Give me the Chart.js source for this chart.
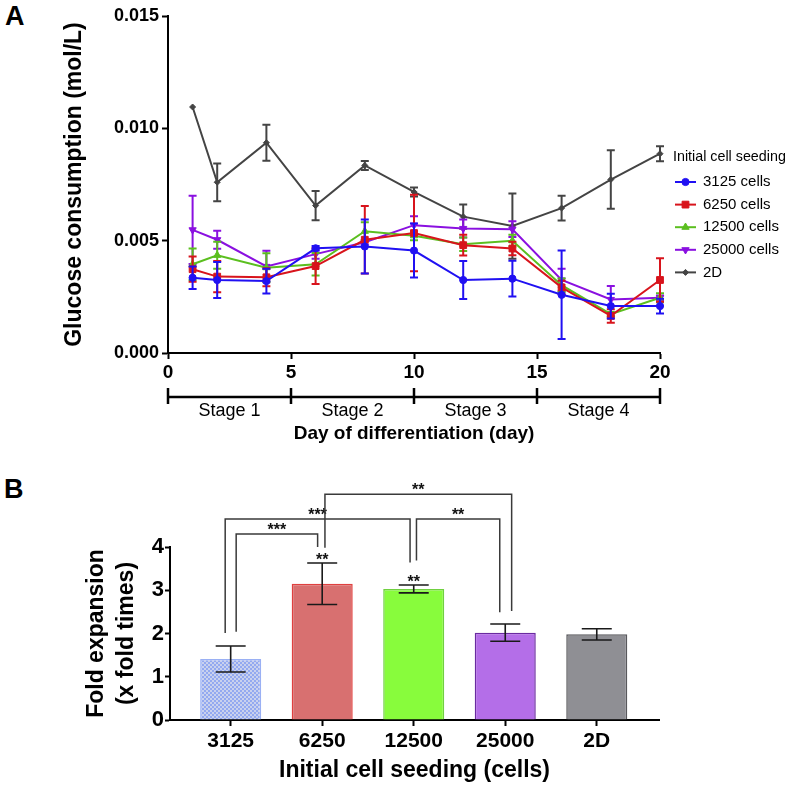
<!DOCTYPE html>
<html><head><meta charset="utf-8">
<script src="https://cdn.jsdelivr.net/npm/chart.js@4/dist/chart.umd.min.js"></script>
<style>
body{margin:0;background:#fff;width:787px;height:785px;position:relative;overflow:hidden;font-family:"Liberation Sans",Arial,sans-serif}
#ca{position:absolute;left:0;top:0}
#cb{position:absolute;left:0;top:450px}
.pl{position:absolute;font-weight:bold;font-size:27px;color:#000}
</style></head><body>
<div class="pl" style="left:5px;top:1px">A</div>
<div class="pl" style="left:4px;top:474px">B</div>
<canvas id="ca" width="787" height="450"></canvas>
<canvas id="cb" width="787" height="335"></canvas>
<script>
// ---------- Panel A data ----------
const days = [1, 2, 4, 6, 8, 10, 12, 14, 16, 18, 20];
const seriesLabels = ['3125 cells', '6250 cells', '12500 cells', '25000 cells', '2D'];
const glc3125  = [0.00335, 0.00325, 0.00320, 0.00466, 0.00474, 0.00456, 0.00325, 0.00331, 0.00259, 0.00209, 0.00209];
const sd3125   = [0.00050, 0.00080, 0.00055, 0.00010, 0.00120, 0.00120, 0.00085, 0.00080, 0.00197, 0.00055, 0.00033];
const glc6250  = [0.00373, 0.00340, 0.00337, 0.00387, 0.00504, 0.00534, 0.00480, 0.00465, 0.00292, 0.00165, 0.00325];
const sd6250   = [0.00056, 0.00070, 0.00040, 0.00080, 0.00150, 0.00170, 0.00046, 0.00030, 0.00030, 0.00030, 0.00097];
const glc12500 = [0.00395, 0.00435, 0.00380, 0.00395, 0.00542, 0.00522, 0.00484, 0.00500, 0.00302, 0.00173, 0.00246];
const sd12500  = [0.00070, 0.00060, 0.00064, 0.00050, 0.00040, 0.00020, 0.00030, 0.00026, 0.00030, 0.00010, 0.00020];
const glc25000 = [0.00548, 0.00504, 0.00385, 0.00440, 0.00493, 0.00569, 0.00554, 0.00551, 0.00325, 0.00238, 0.00246];
const sd25000  = [0.00152, 0.00040, 0.00070, 0.00020, 0.00010, 0.00040, 0.00040, 0.00035, 0.00050, 0.00060, 0.00010];
const glc2D    = [0.01095, 0.00760, 0.00936, 0.00656, 0.00835, 0.00717, 0.00607, 0.00565, 0.00645, 0.00772, 0.00887];
const sd2D     = [0, 0.00084, 0.00080, 0.00065, 0.00020, 0.00020, 0.00054, 0.00145, 0.00055, 0.00130, 0.00033];
const stageLabels = ['Stage 1', 'Stage 2', 'Stage 3', 'Stage 4'];
const stageBounds = [0, 5, 10, 15, 20];

// ---------- Panel B data ----------
const seedCategories = ['3125', '6250', '12500', '25000', '2D'];
const foldMean = [1.41, 3.15, 3.03, 2.02, 1.98];
const foldSD   = [0.30, 0.48, 0.09, 0.20, 0.13];
const comparisons = [[0, 2, '***'], [0, 1, '***'], [1, 3, '**'], [2, 3, '**']];
const vs2D = ['', '**', '**', '', ''];

Chart.defaults.font.family = "'Liberation Sans', Arial, sans-serif";
Chart.defaults.color = '#000';

function marker(ctx, style, x, y, r, color) {
  ctx.save();
  ctx.fillStyle = color; ctx.strokeStyle = color; ctx.lineWidth = 1;
  ctx.beginPath();
  if (style === 'circle') { ctx.arc(x, y, r, 0, Math.PI * 2); }
  else if (style === 'rect') { const s = r * Math.SQRT1_2; ctx.rect(x - s, y - s, 2 * s, 2 * s); }
  else if (style === 'triangle') { ctx.moveTo(x, y - r); ctx.lineTo(x + r * 0.87, y + r * 0.5); ctx.lineTo(x - r * 0.87, y + r * 0.5); ctx.closePath(); }
  else if (style === 'triangleDown') { ctx.moveTo(x, y + r); ctx.lineTo(x + r * 0.87, y - r * 0.5); ctx.lineTo(x - r * 0.87, y - r * 0.5); ctx.closePath(); }
  else if (style === 'rectRot') { ctx.moveTo(x, y - r); ctx.lineTo(x + r, y); ctx.lineTo(x, y + r); ctx.lineTo(x - r, y); ctx.closePath(); }
  ctx.fill(); ctx.stroke();
  ctx.restore();
}

const colorsA = ['#2010f2', '#d8141c', '#5bbf1f', '#8a10e0', '#444444'];
const stylesA = ['circle', 'rect', 'triangle', 'triangleDown', 'rectRot'];
const legendStyles = stylesA;
const seriesVals = [glc3125, glc6250, glc12500, glc25000, glc2D];
const seriesErr = [sd3125, sd6250, sd12500, sd25000, sd2D];
const radii = [3.6, 4.8, 4.2, 4.2, 3.0];

const datasetsA = seriesLabels.map((lab, k) => ({
  label: lab,
  data: days.map((d, i) => ({ x: d, y: seriesVals[k][i] })),
  err: seriesErr[k],
  borderColor: colorsA[k],
  backgroundColor: colorsA[k],
  borderWidth: 2,
  pointStyle: k === 3 ? 'triangle' : stylesA[k],
  rotation: k === 3 ? 180 : 0,
  pointRadius: radii[k],
  pointBorderWidth: 1,
  tension: 0,
  clip: false
}));

const errPluginA = {
  id: 'errA',
  afterDatasetDraw(chart, args) {
    const ds = chart.data.datasets[args.index];
    const ys = chart.scales.y, ctx = chart.ctx;
    ctx.save();
    ctx.strokeStyle = ds.borderColor; ctx.lineWidth = 2;
    args.meta.data.forEach((pt, i) => {
      const e = ds.err[i]; if (!e) return;
      const v = ds.data[i].y, x = pt.x;
      const yt = ys.getPixelForValue(v + e), yb = ys.getPixelForValue(v - e);
      ctx.beginPath();
      ctx.moveTo(x, yt); ctx.lineTo(x, yb);
      ctx.moveTo(x - 4, yt); ctx.lineTo(x + 4, yt);
      ctx.moveTo(x - 4, yb); ctx.lineTo(x + 4, yb);
      ctx.stroke();
    });
    ctx.restore();
  }
};

const stagePlugin = {
  id: 'stages',
  afterDraw(chart) {
    const xs = chart.scales.x, ctx = chart.ctx;
    const y0 = 397;
    ctx.save();
    ctx.strokeStyle = '#000'; ctx.lineWidth = 2.5;
    ctx.beginPath();
    ctx.moveTo(xs.getPixelForValue(stageBounds[0]), y0);
    ctx.lineTo(xs.getPixelForValue(stageBounds[stageBounds.length - 1]), y0);
    stageBounds.forEach(b => { const x = xs.getPixelForValue(b); ctx.moveTo(x, y0 - 9); ctx.lineTo(x, y0 + 7); });
    ctx.stroke();
    ctx.fillStyle = '#000'; ctx.font = "18px 'Liberation Sans', Arial, sans-serif";
    ctx.textAlign = 'center'; ctx.textBaseline = 'alphabetic';
    stageLabels.forEach((s, i) => {
      const x = (xs.getPixelForValue(stageBounds[i]) + xs.getPixelForValue(stageBounds[i + 1])) / 2;
      ctx.fillText(s, x, 416);
    });
    ctx.restore();
  }
};

const legendPluginA = {
  id: 'legA',
  afterDraw(chart) {
    const ctx = chart.ctx;
    ctx.save();
    ctx.fillStyle = '#000'; ctx.font = "14.3px 'Liberation Sans', Arial, sans-serif";
    ctx.textAlign = 'left'; ctx.textBaseline = 'middle';
    ctx.fillText('Initial cell seeding', 673, 157);
    ctx.font = "15px 'Liberation Sans', Arial, sans-serif";
    chart.data.datasets.forEach((ds, k) => {
      const y = 182 + k * 22.6;
      ctx.strokeStyle = ds.borderColor; ctx.lineWidth = 2;
      ctx.beginPath(); ctx.moveTo(675, y); ctx.lineTo(696, y); ctx.stroke();
      marker(ctx, legendStyles[k], 685.5, y, radii[k], ds.borderColor);
      ctx.fillStyle = '#000';
      ctx.fillText(ds.label, 703, y);
    });
    ctx.restore();
  }
};

new Chart(document.getElementById('ca'), {
  type: 'line',
  data: { datasets: datasetsA },
  plugins: [errPluginA, stagePlugin, legendPluginA],
  options: {
    responsive: false, animation: false,
    layout: { padding: { top: 16, right: 127, left: 0, bottom: 0 } },
    plugins: { legend: { display: false }, tooltip: { enabled: false } },
    scales: {
      x: {
        type: 'linear', min: 0, max: 20,
        ticks: { stepSize: 5, font: { size: 19, weight: 'bold' }, color: '#000', padding: 2 },
        grid: { display: true, drawOnChartArea: false, tickLength: 6, tickWidth: 2, tickColor: '#000' },
        border: { color: '#000', width: 2 },
        title: { display: true, text: 'Day of differentiation (day)', font: { size: 19, weight: 'bold' }, color: '#000', padding: { top: 0, bottom: 5 } },
        afterFit: s => { s.height = 97; }
      },
      y: {
        min: 0, max: 0.015,
        ticks: { stepSize: 0.005, font: { size: 18, weight: 'bold' }, color: '#000', padding: 3, callback: v => v.toFixed(3) },
        grid: { display: true, drawOnChartArea: false, tickLength: 6, tickWidth: 2, tickColor: '#000' },
        border: { color: '#000', width: 2 },
        title: { display: true, text: 'Glucose consumption (mol/L)', font: { size: 23, weight: 'bold' }, color: '#000', padding: { top: 61, bottom: 0 } },
        afterFit: s => { s.width = 168; }
      }
    }
  }
});

// ---------- Panel B ----------
const cbEl = document.getElementById('cb');
const pc = document.createElement('canvas'); pc.width = 4; pc.height = 4;
const pctx = pc.getContext('2d');
pctx.fillStyle = '#c9d1ee'; pctx.fillRect(0, 0, 4, 4);
pctx.fillStyle = '#93a9f0'; pctx.fillRect(0, 0, 2, 2); pctx.fillRect(2, 2, 2, 2);
const pattern = cbEl.getContext('2d').createPattern(pc, 'repeat');

const starFont = "bold 16px 'Liberation Sans', Arial, sans-serif";
const errPluginB = {
  id: 'errB',
  afterDatasetsDraw(chart) {
    const ys = chart.scales.y, ctx = chart.ctx;
    const meta = chart.getDatasetMeta(0);
    ctx.save();
    ctx.strokeStyle = '#1a1a1a'; ctx.lineWidth = 1.6;
    meta.data.forEach((bar, i) => {
      const x = bar.x, yt = ys.getPixelForValue(foldMean[i] + foldSD[i]), yb = ys.getPixelForValue(foldMean[i] - foldSD[i]);
      ctx.beginPath();
      ctx.moveTo(x, yt); ctx.lineTo(x, yb);
      ctx.moveTo(x - 15, yt); ctx.lineTo(x + 15, yt);
      ctx.moveTo(x - 15, yb); ctx.lineTo(x + 15, yb);
      ctx.stroke();
      if (vs2D[i]) {
        ctx.fillStyle = '#111'; ctx.font = starFont;
        ctx.textAlign = 'center'; ctx.textBaseline = 'alphabetic';
        ctx.fillText(vs2D[i], x, yt + 2);
      }
    });
    ctx.restore();
  }
};

// bracket geometry: [leftX offset, leftBottom, top, rightX offset, rightBottom] in data units
const bracketGeom = [
  [-0.06, 2.01, 4.65, -0.04, 3.64],
  [0.06, 2.04, 4.30, -0.05, 4.00],
  [0.03, 3.98, 5.22, 0.07, 2.52],
  [0.03, 3.69, 4.65, -0.06, 2.49]
];
const bracketPlugin = {
  id: 'brackets',
  afterDraw(chart) {
    const xs = chart.scales.x, ys = chart.scales.y, ctx = chart.ctx;
    ctx.save();
    ctx.strokeStyle = '#3a3a3a'; ctx.lineWidth = 1.5;
    ctx.fillStyle = '#111'; ctx.font = starFont;
    ctx.textAlign = 'center'; ctx.textBaseline = 'alphabetic';
    comparisons.forEach((c, k) => {
      const g = bracketGeom[k];
      const xl = xs.getPixelForValue(c[0] + g[0]), xr = xs.getPixelForValue(c[1] + g[3]);
      const yl = ys.getPixelForValue(g[1]), yt = ys.getPixelForValue(g[2]), yr = ys.getPixelForValue(g[4]);
      ctx.beginPath();
      ctx.moveTo(xl, yl); ctx.lineTo(xl, yt); ctx.lineTo(xr, yt); ctx.lineTo(xr, yr);
      ctx.stroke();
      ctx.fillText(c[2], (xl + xr) / 2, yt + 1);
    });
    ctx.restore();
  }
};

new Chart(cbEl, {
  type: 'bar',
  data: {
    datasets: [{
      data: seedCategories.map((c, i) => ({ x: i, y: foldMean[i] })),
      backgroundColor: [pattern, '#d87070', '#88fc3c', '#b46ee8', '#8f8f94'],
      borderColor: ['#9ab0f4', '#e0403f', '#70d040', '#6a2aa0', '#58585c'],
      borderWidth: 1.5,
      barPercentage: 0.667,
      categoryPercentage: 1
    }]
  },
  plugins: [errPluginB, bracketPlugin],
  options: {
    responsive: false, animation: false,
    layout: { padding: { top: 97, right: 128, left: 0, bottom: 0 } },
    plugins: { legend: { display: false }, tooltip: { enabled: false } },
    scales: {
      x: {
        type: 'linear', min: -0.663, max: 4.68, offset: false,
        afterBuildTicks: s => { s.ticks = seedCategories.map((c, i) => ({ value: i })); },
        ticks: { font: { size: 21, weight: 'bold' }, color: '#000', padding: 3, callback: v => seedCategories[v] },
        grid: { display: true, offset: false, drawOnChartArea: false, tickLength: 6, tickWidth: 2, tickColor: '#000' },
        border: { color: '#000', width: 2 },
        title: { display: true, text: 'Initial cell seeding (cells)', font: { size: 23, weight: 'bold' }, color: '#000', padding: { top: 0, bottom: 1 } },
        afterFit: s => { s.height = 65; }
      },
      y: {
        min: 0, max: 4,
        ticks: { stepSize: 1, font: { size: 22, weight: 'bold' }, color: '#000', padding: 1 },
        grid: { display: true, drawOnChartArea: false, tickLength: 5, tickWidth: 2, tickColor: '#000' },
        border: { color: '#000', width: 2 },
        title: { display: true, text: ['Fold expansion', '(x fold times)'], font: { size: 23, weight: 'bold', lineHeight: 1.3 }, color: '#000', padding: { top: 82, bottom: 0 } },
        afterFit: s => { s.width = 170; }
      }
    }
  }
});
</script>
</body></html>
